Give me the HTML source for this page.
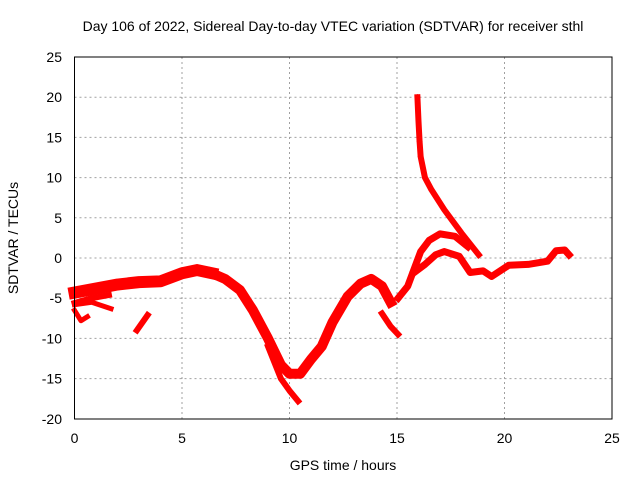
<!DOCTYPE html>
<html><head><meta charset="utf-8"><style>
body{margin:0;background:#fff;}
svg{display:block;font-family:"Liberation Sans",sans-serif;}
</style></head><body>
<svg id="c" width="640" height="480">
<text x="333" y="31" font-size="14" text-anchor="middle">Day 106 of 2022, Sidereal Day-to-day VTEC variation (SDTVAR) for receiver sthl</text>
<g id="grid"></g>
<g id="series"></g>
<rect x="74.5" y="57" width="537.5" height="362" fill="none" stroke="#000" stroke-width="1"/>
<g id="ticks"></g>
<text x="343" y="470" font-size="14" text-anchor="middle">GPS time / hours</text>
<text transform="translate(18,238) rotate(-90)" font-size="14" text-anchor="middle">SDTVAR / TECUs</text>
</svg>
<script>
const xTicks=[0,5,10,15,20,25];
const yTicks=[25,20,15,10,5,0,-5,-10,-15,-20];
const mainEarly=[[0,-4.3],[1,-3.8],[2,-3.3],[3,-3.0],[4,-2.9],[5,-1.9],[5.7,-1.5],[6.4,-1.9]];
const mainUpper=[[6.4,-1.9],[7,-2.6],[7.7,-4],[8.3,-6.5],[9,-10],[9.6,-13.3],[10,-14.4],[10.5,-14.4],[11,-12.6],[11.5,-11],[12,-8],[12.7,-4.8],[13.3,-3.2],[13.8,-2.6],[14.3,-3.5],[14.7,-5.5]];
const mainLower=[[9,-11],[9.6,-15],[10,-16.5],[10.4,-17.8]];
const leftBranch=[[0,-5.8],[0.8,-5.5],[1.7,-6.3]];
const leftBranch2=[[0,-6.5],[0.3,-7.8],[0.6,-7.3]];
const leftBranch3=[[0,-5.6],[0.8,-5.0],[1.6,-4.6]];
const smallSeg=[[2.9,-9.0],[3.4,-7.1]];
const valleyLower=[[14.3,-6.9],[14.7,-8.5],[15.05,-9.5]];
const upperHump=[[15.05,-5],[15.5,-3.5],[16.1,0.8],[16.5,2.2],[17,3.0],[17.7,2.7],[18.3,1.4]];
const lowerHump=[[15.8,-1.8],[16.3,-0.8],[16.8,0.4],[17.2,0.8],[17.9,0.2],[18.4,-1.8],[19.0,-1.6],[19.4,-2.3],[20.2,-0.9],[21.1,-0.8],[22.0,-0.4],[22.4,0.9],[22.8,1.0],[23,0.4]];
const spike=[[15.95,20],[16.0,17],[16.05,14.5],[16.1,12.6],[16.3,10],[16.6,8.5],[17.2,6],[18,3.1],[18.8,0.4]];
const NS='http://www.w3.org/2000/svg';
const X=h=>74.5+h*21.5, Y=v=>258-v*8.04;
const grid=document.getElementById('grid'),ticks=document.getElementById('ticks'),ser=document.getElementById('series');
function mk(t,a,p){const e=document.createElementNS(NS,t);for(const k in a)e.setAttribute(k,a[k]);p.appendChild(e);return e;}
xTicks.forEach(t=>{const x=X(t);
 if(t>0&&t<25){const g=mk('line',{x1:x,x2:x,y1:57,y2:419,stroke:'#a0a0a0','stroke-dasharray':'2,3'},grid);
 
 }
 const tx=mk('text',{x:x,y:443,'font-size':14,'text-anchor':'middle'},ticks);tx.textContent=t;
 
 });
yTicks.forEach(t=>{const y=Y(t);
 if(t<25&&t>-20){const g=mk('line',{x1:74.5,x2:612,y1:y,y2:y,stroke:'#a0a0a0','stroke-dasharray':'2,3'},grid);
 
 }
 const tx=mk('text',{x:62,y:y+5,'font-size':14,'text-anchor':'end'},ticks);tx.textContent=t;
 
 });
function draw(arr,w,name){const p=mk('polyline',{points:arr.map(d=>X(d[0])+','+Y(d[1])).join(' '),fill:'none',stroke:'#ff0000','stroke-width':w,'stroke-linejoin':'round','stroke-linecap':'square'},ser);
 
 }
draw(mainEarly,12,'series-main-early');
draw(mainUpper,10,'series-main-upper');
draw(mainLower,6,'series-main-lower');
draw(leftBranch,5,'series-left-branch');
draw(leftBranch2,5,'series-left-branch-2');
draw(leftBranch3,6,'series-left-branch-3');
draw(smallSeg,6,'series-small-segment');
draw(valleyLower,6,'series-valley-lower');
draw(upperHump,7,'series-upper-hump');
draw(lowerHump,7,'series-lower-hump');
draw(spike,6,'series-spike');
spike.slice(0,5).forEach(d=>{const t=mk('text',{x:X(d[0]),y:Y(d[1])+4,'font-size':12,fill:'#ff0000','text-anchor':'middle'},ser);t.textContent='+';
 
 });
</script>
</body></html>
